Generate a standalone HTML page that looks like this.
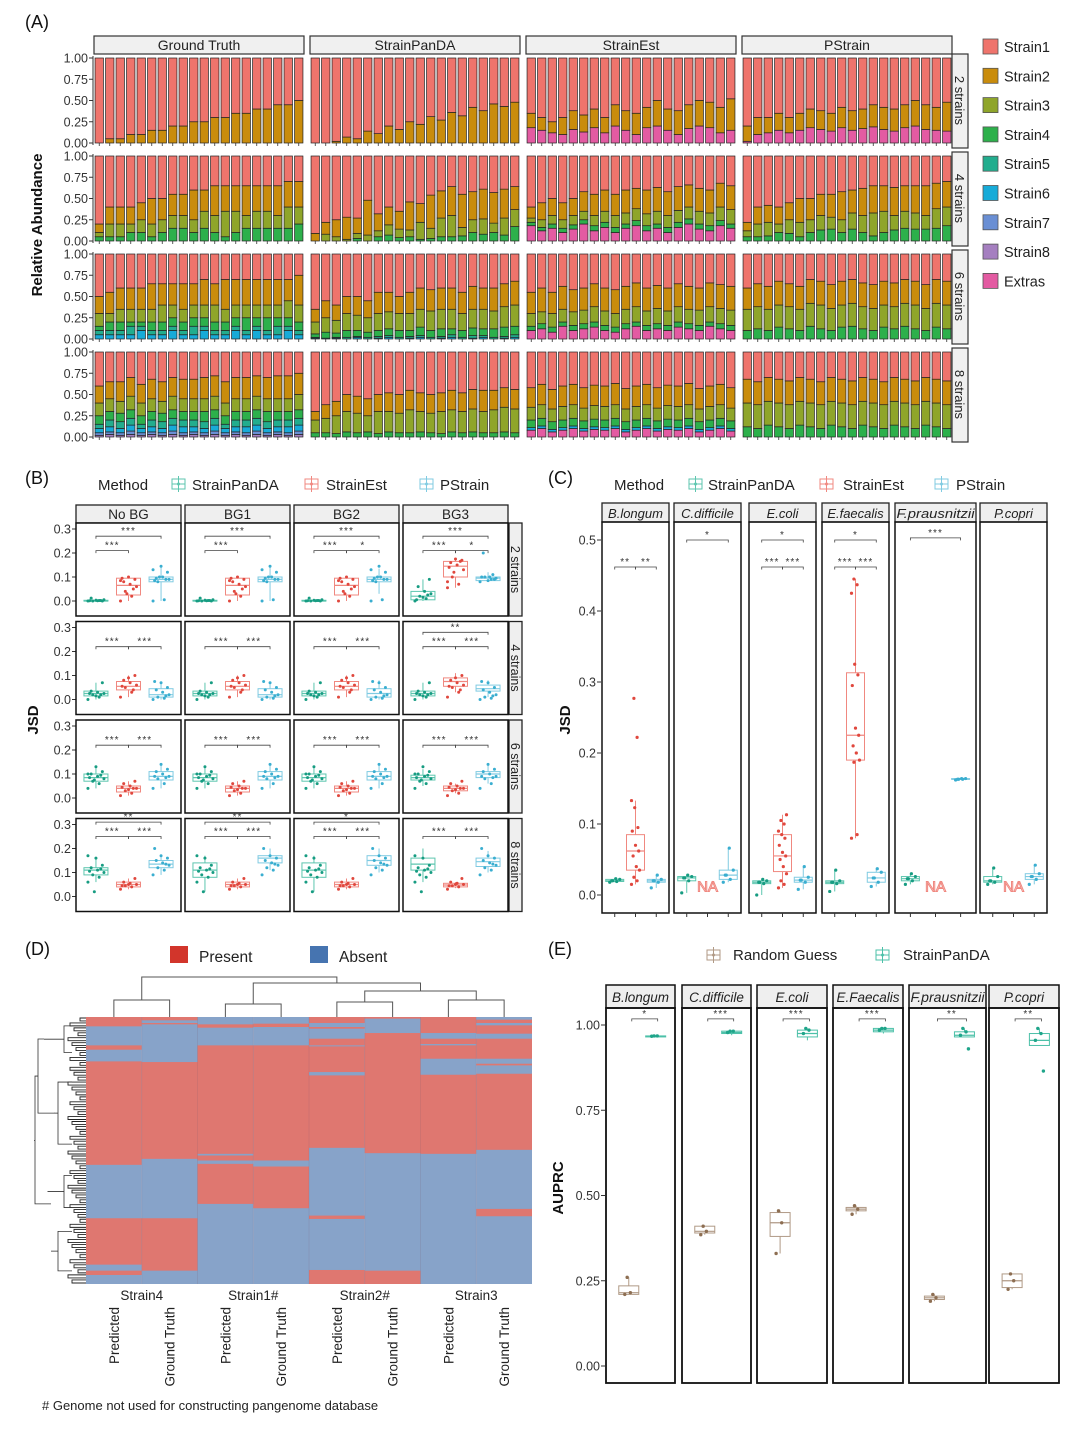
<!DOCTYPE html>
<html><head><meta charset="utf-8"><style>
html,body{margin:0;padding:0;background:#fff}
svg{display:block;font-family:"Liberation Sans",Arial,sans-serif}
</style></head><body>
<svg id="fig" width="1080" height="1429" viewBox="0 0 1080 1429" xmlns="http://www.w3.org/2000/svg"></svg>
<script>
// ================= DATA =================
const A_methods=['Ground Truth','StrainPanDA','StrainEst','PStrain'];
const A_rowLabels=['2 strains','4 strains','6 strains','8 strains'];
const A_yTicks=['0.00','0.25','0.50','0.75','1.00'];
const A_r1_gt=[['Strain2',[0,.05,.05,.1,.1,.15,.15,.2,.2,.25,.25,.3,.3,.35,.35,.4,.4,.45,.45,.5]]];
const A_r1_pd=[['Strain2',[0,0,.02,.07,.05,.14,.11,.2,.16,.25,.22,.31,.27,.36,.32,.42,.38,.46,.43,.48]]];
const A_r1_se=[['Extras',[.18,.15,.12,.1,.16,.13,.18,.12,.2,.15,.1,.18,.2,.15,.1,.17,.2,.18,.12,.15]],['Strain2',[.35,.3,.25,.3,.38,.33,.4,.3,.45,.38,.35,.42,.5,.4,.38,.45,.5,.48,.42,.52]]];
const A_r1_ps=[['Extras',[.02,.1,.12,.15,.12,.15,.18,.16,.14,.18,.15,.17,.19,.16,.14,.18,.2,.16,.15,.14]],['Strain2',[.2,.3,.3,.35,.3,.35,.4,.38,.35,.42,.38,.4,.45,.42,.4,.45,.5,.45,.42,.48]]];
const A_r2_gt=[['Strain4',[.05,.05,.05,.1,.1,.05,.1,.15,.15,.1,.15,.1,.05,.1,.15,.15,.15,.15,.15,.2]],['Strain3',[.1,.2,.2,.2,.25,.2,.25,.3,.3,.25,.35,.3,.35,.35,.3,.35,.35,.3,.4,.4]],['Strain2',[.2,.4,.4,.4,.45,.5,.5,.55,.55,.6,.6,.65,.65,.65,.65,.65,.65,.65,.7,.7]]];
const A_r2_pd=[['Strain4',[0,0,0,0,.03,0,.05,.07,.04,.05,.02,.03,.05,.05,.06,.1,.08,.1,.07,.17]],['Strain3',[0,.08,.05,.02,.09,.07,.12,.19,.14,.13,.22,.15,.27,.3,.16,.25,.26,.21,.27,.37]],['Strain2',[.09,.22,.25,.28,.27,.48,.32,.4,.35,.46,.44,.54,.59,.64,.55,.58,.61,.57,.61,.64]]];
const A_r2_se=[['Extras',[.18,.12,.15,.1,.14,.2,.12,.16,.1,.15,.18,.12,.15,.1,.16,.2,.14,.12,.18,.15]],['Strain4',[.22,.16,.2,.15,.19,.25,.18,.22,.16,.2,.24,.18,.2,.16,.22,.26,.2,.18,.24,.2]],['Strain3',[.27,.25,.3,.25,.3,.35,.3,.35,.3,.33,.38,.32,.35,.3,.36,.4,.35,.33,.4,.37]],['Strain2',[.4,.45,.5,.45,.5,.58,.55,.6,.55,.6,.62,.6,.63,.58,.64,.66,.62,.6,.68,.65]]];
const A_r2_ps=[['Strain4',[.05,.05,.06,.1,.09,.05,.1,.13,.14,.1,.14,.1,.06,.1,.13,.15,.14,.14,.15,.18]],['Strain3',[.12,.2,.22,.2,.25,.22,.25,.3,.28,.25,.33,.3,.33,.35,.3,.35,.33,.3,.38,.4]],['Strain2',[.22,.4,.42,.4,.45,.5,.5,.55,.55,.58,.6,.62,.65,.65,.63,.65,.65,.65,.68,.7]]];
const A_r3_gt=[['Strain6',[.05,.05,.05,.05,.1,.05,.05,.1,.05,.05,.1,.05,.05,.1,.05,.1,.05,.05,.1,.05]],['Strain5',[.1,.1,.1,.15,.15,.1,.1,.15,.1,.15,.15,.1,.1,.15,.1,.15,.1,.15,.15,.1]],['Strain4',[.15,.2,.2,.2,.2,.2,.2,.25,.2,.25,.25,.2,.2,.25,.25,.25,.25,.25,.25,.2]],['Strain3',[.3,.3,.35,.35,.35,.35,.4,.4,.35,.4,.4,.4,.35,.4,.4,.4,.4,.4,.45,.4]],['Strain2',[.5,.55,.6,.6,.6,.65,.65,.65,.65,.65,.7,.65,.7,.7,.7,.7,.7,.7,.7,.75]]];
const A_r3_pd=[['Strain6',[.01,0,.01,0,.02,0,.01,.02,0,.01,.02,0,.01,.02,0,.01,.02,0,.01,.02]],['Strain5',[.02,.01,.02,.02,.03,.02,.03,.04,.02,.03,.04,.02,.03,.05,.02,.04,.04,.02,.03,.05]],['Strain4',[.06,.08,.07,.1,.1,.08,.1,.12,.1,.1,.14,.1,.12,.12,.1,.13,.12,.12,.14,.15]],['Strain3',[.2,.25,.22,.3,.28,.25,.3,.32,.3,.3,.35,.33,.35,.35,.3,.35,.35,.33,.38,.4]],['Strain2',[.35,.45,.4,.5,.5,.45,.55,.55,.5,.55,.6,.58,.6,.6,.55,.62,.6,.6,.65,.68]]];
const A_r3_se=[['Extras',[.1,.12,.08,.15,.1,.12,.14,.1,.08,.12,.15,.1,.12,.1,.14,.12,.1,.15,.12,.1]],['Strain4',[.15,.18,.14,.2,.16,.18,.2,.16,.14,.18,.2,.16,.18,.16,.2,.18,.16,.2,.18,.16]],['Strain3',[.3,.32,.3,.35,.32,.34,.38,.33,.3,.35,.38,.33,.36,.33,.38,.35,.34,.38,.36,.34]],['Strain2',[.55,.6,.55,.62,.58,.6,.65,.6,.58,.62,.66,.6,.63,.6,.65,.62,.6,.66,.64,.62]]];
const A_r3_ps=[['Strain4',[.1,.12,.1,.14,.12,.1,.15,.12,.1,.14,.15,.12,.1,.14,.12,.15,.12,.1,.14,.12]],['Strain3',[.35,.38,.35,.4,.38,.35,.42,.4,.36,.4,.42,.38,.36,.4,.38,.42,.4,.36,.42,.4]],['Strain2',[.6,.65,.62,.68,.65,.62,.7,.68,.64,.68,.7,.66,.64,.68,.66,.7,.68,.64,.7,.68]]];
const A_r4_gt=[['Strain8',[.02,.03,.02,.03,.02,.03,.02,.03,.02,.03,.02,.03,.02,.03,.02,.03,.02,.03,.02,.03]],['Strain7',[.05,.06,.05,.07,.05,.06,.05,.07,.05,.06,.05,.07,.05,.06,.05,.07,.05,.06,.05,.07]],['Strain6',[.1,.12,.1,.14,.1,.12,.1,.14,.12,.12,.1,.14,.1,.12,.12,.14,.1,.12,.12,.14]],['Strain5',[.15,.2,.18,.22,.15,.2,.18,.22,.2,.2,.18,.22,.15,.2,.2,.22,.18,.2,.2,.22]],['Strain4',[.25,.3,.28,.32,.25,.3,.28,.32,.3,.3,.3,.32,.25,.3,.3,.32,.3,.3,.3,.32]],['Strain3',[.4,.45,.42,.48,.4,.45,.42,.48,.45,.45,.45,.48,.4,.45,.45,.48,.45,.45,.45,.5]],['Strain2',[.6,.65,.65,.7,.62,.68,.65,.7,.68,.68,.7,.72,.65,.7,.7,.72,.7,.72,.72,.75]]];
const A_r4_pd=[['Strain4',[.05,.05,.04,.06,.05,.06,.04,.06,.05,.05,.06,.05,.04,.06,.05,.06,.05,.05,.06,.05]],['Strain3',[.2,.22,.25,.3,.28,.25,.3,.3,.28,.32,.3,.28,.3,.32,.3,.33,.3,.32,.35,.33]],['Strain2',[.3,.38,.42,.5,.48,.45,.5,.52,.5,.55,.52,.5,.52,.55,.52,.56,.55,.55,.58,.56]]];
const A_r4_se=[['Extras',[.08,.1,.06,.08,.1,.07,.09,.08,.1,.06,.08,.1,.07,.09,.08,.1,.06,.08,.1,.07]],['Strain6',[.11,.13,.09,.11,.13,.1,.12,.11,.13,.09,.11,.13,.1,.12,.11,.13,.09,.11,.13,.1]],['Strain4',[.2,.22,.18,.2,.22,.19,.21,.2,.22,.18,.2,.22,.19,.21,.2,.22,.18,.2,.22,.19]],['Strain3',[.35,.38,.33,.36,.38,.34,.37,.36,.38,.33,.36,.38,.34,.37,.36,.38,.33,.36,.38,.34]],['Strain2',[.58,.62,.56,.6,.62,.58,.61,.6,.63,.57,.6,.62,.58,.61,.6,.63,.57,.6,.62,.58]]];
const A_r4_ps=[['Strain4',[.12,.1,.14,.12,.1,.14,.12,.1,.14,.12,.1,.14,.12,.1,.14,.12,.1,.14,.12,.1]],['Strain3',[.4,.38,.42,.4,.38,.42,.4,.38,.42,.4,.38,.42,.4,.38,.42,.4,.38,.42,.4,.38]],['Strain2',[.68,.65,.7,.68,.66,.7,.68,.65,.7,.68,.66,.7,.68,.65,.7,.68,.66,.7,.68,.66]]];
const A_grid=[[A_r1_gt,A_r1_pd,A_r1_se,A_r1_ps],[A_r2_gt,A_r2_pd,A_r2_se,A_r2_ps],[A_r3_gt,A_r3_pd,A_r3_se,A_r3_ps],[A_r4_gt,A_r4_pd,A_r4_se,A_r4_ps]];
const A_legend=['Strain1','Strain2','Strain3','Strain4','Strain5','Strain6','Strain7','Strain8','Extras'];

const B_cols=['No BG','BG1','BG2','BG3'];
const B_rows=['2 strains','4 strains','6 strains','8 strains'];
const B_yTicks=[0,0.1,0.2,0.3];
const B_row1=[[[0,0,.003,0,.01],[.025,.065,.095,0,.1],[.08,.09,.1,0,.145]],[[0,0,.003,0,.01],[.025,.065,.095,0,.1],[.08,.09,.1,0,.145]],[[0,0,.003,0,.008],[.025,.065,.095,0,.1],[.08,.09,.1,.03,.135]],[[.005,.02,.04,0,.09],[.1,.145,.165,.055,.175],[.085,.095,.1,.08,.12]]];
const B_row2=[[[.015,.025,.035,0,.07],[.04,.055,.075,.01,.1],[.01,.02,.045,0,.075]],[[.015,.025,.035,0,.07],[.04,.055,.075,.01,.1],[.01,.02,.045,0,.075]],[[.015,.025,.035,0,.07],[.04,.055,.075,.01,.1],[.01,.025,.045,0,.08]],[[.015,.025,.035,0,.07],[.055,.075,.09,.03,.11],[.035,.045,.06,.01,.08]]];
const B_row3=[[[.07,.085,.1,.04,.13],[.025,.04,.05,.01,.07],[.075,.09,.11,.04,.14]],[[.07,.085,.1,.04,.13],[.025,.04,.05,.01,.07],[.075,.09,.11,.04,.14]],[[.07,.085,.1,.04,.13],[.025,.04,.05,.01,.07],[.075,.09,.11,.04,.14]],[[.075,.085,.095,.05,.12],[.03,.04,.05,.02,.06],[.085,.1,.11,.06,.14]]];
const B_row4=[[[.09,.11,.12,.06,.16],[.04,.05,.06,.03,.075],[.12,.135,.15,.09,.17]],[[.08,.11,.14,.02,.17],[.04,.05,.06,.03,.075],[.14,.16,.17,.11,.2]],[[.08,.11,.14,.02,.17],[.04,.05,.06,.03,.075],[.13,.15,.17,.1,.2]],[[.11,.135,.16,.06,.2],[.04,.048,.055,.035,.06],[.125,.145,.16,.1,.19]]];
const B_stats=[B_row1,B_row2,B_row3,B_row4];
const B_pts_r1=[[0,.002,0,.005,.001,.012,0,.003,.001,.002],[.0,.02,.04,.06,.07,.08,.09,.1,.095,.05,.03,.085],[0,.005,.08,.09,.1,.095,.12,.145,.085,.09,.1,.13]];
const B_pts_r1b=[[0,.01,.02,.03,.04,.06,.09,.015,.005,.025],[.055,.07,.1,.13,.15,.16,.17,.175,.14,.165,.12,.08],[.08,.09,.1,.095,.1,.2,.09,.085,.1,.11]];
const B_pts_r2=[[0,.01,.02,.025,.03,.035,.07,.015,.025,.02],[.01,.03,.05,.06,.07,.08,.1,.09,.055,.04],[0,.005,.01,.02,.03,.04,.05,.07,.075,.015]];
const B_pts_r3=[[.04,.06,.07,.08,.09,.1,.11,.13,.085,.095,.075,.1],[.01,.02,.03,.04,.05,.06,.07,.035,.045,.04],[.04,.06,.08,.09,.1,.11,.12,.14,.09,.085]];
const B_pts_r4=[[.06,.08,.09,.1,.11,.12,.13,.16,.105,.115,.02,.17],[.03,.04,.045,.05,.055,.06,.075,.05,.045],[.09,.11,.12,.13,.14,.15,.16,.17,.2,.135]];
const B_sig=[
 [[[1,3,.27,'***'],[1,2,.21,'***']],[[1,3,.27,'***'],[1,2,.21,'***']],[[1,3,.27,'***'],[1,2,.21,'***'],[2,3,.21,'*']],[[1,3,.27,'***'],[1,2,.21,'***'],[2,3,.21,'*']]],
 [[[1,2,.22,'***'],[2,3,.22,'***']],[[1,2,.22,'***'],[2,3,.22,'***']],[[1,2,.22,'***'],[2,3,.22,'***']],[[1,3,.28,'**'],[1,2,.22,'***'],[2,3,.22,'***']]],
 [[[1,2,.22,'***'],[2,3,.22,'***']],[[1,2,.22,'***'],[2,3,.22,'***']],[[1,2,.22,'***'],[2,3,.22,'***']],[[1,2,.22,'***'],[2,3,.22,'***']]],
 [[[1,3,.31,'**'],[1,2,.25,'***'],[2,3,.25,'***']],[[1,3,.31,'**'],[1,2,.25,'***'],[2,3,.25,'***']],[[1,3,.31,'*'],[1,2,.25,'***'],[2,3,.25,'***']],[[1,2,.25,'***'],[2,3,.25,'***']]]];

const C_species=['B.longum','C.difficile','E.coli','E.faecalis','F.prausnitzii','P.copri'];
const C_yTicks=[0,0.1,0.2,0.3,0.4,0.5];
const C_panda=[[.019,.02,.022,.018,.023],[.02,.024,.026,.003,.028],[.016,.018,.02,0,.022],[.016,.018,.02,.005,.035],[.02,.023,.026,.015,.03],[.018,.02,.026,.015,.038]];
const C_est=[[.035,.062,.085,.015,.133],null,[.033,.055,.085,.01,.113],[.19,.225,.313,.08,.445],null,null];
const C_pstrain=[[.018,.02,.022,.01,.028],[.022,.028,.035,.018,.066],[.018,.021,.025,.008,.04],[.018,.024,.032,.012,.037],[.163,.163,.164,.162,.164],[.022,.026,.03,.015,.042]];
const C_estPts=[[.015,.02,.025,.035,.04,.055,.062,.07,.09,.095,.123,.133,.222,.277],[],[.01,.015,.02,.03,.04,.05,.055,.06,.07,.08,.085,.09,.1,.105,.113],[.08,.085,.187,.19,.2,.21,.225,.235,.295,.31,.325,.425,.437,.445],[],[]];
const C_sig=[[[1,2,.462,'**'],[2,3,.462,'**']],[[1,3,.5,'*']],[[1,3,.5,'*'],[1,2,.462,'***'],[2,3,.462,'***']],[[1,3,.5,'*'],[1,2,.462,'***'],[2,3,.462,'***']],[[1,3,.503,'***']],[]];

const D_groups=['Strain4','Strain1#','Strain2#','Strain3'];
const D_colLabels=['Predicted','Ground Truth','Predicted','Ground Truth','Predicted','Ground Truth','Predicted','Ground Truth'];
const D_present=[
 [[0,28],[85,98],[133,443],[603,742],[760,773]],
 [[0,10],[18,22],[135,425],[603,760]],
 [[22,32],[85,410],[415,430],[440,560]],
 [[20,30],[85,430],[448,573]],
 [[0,18],[30,35],[65,85],[88,165],[175,392],[595,605],[758,800]],
 [[0,5],[48,408],[760,800]],
 [[0,48],[65,81],[85,125],[173,410]],
 [[8,18],[25,50],[65,125],[140,145],[170,398],[575,597]]];
const D_geneCount=800;

const E_species=['B.longum','C.difficile','E.coli','E.Faecalis','F.prausnitzii','P.copri'];
const E_yTicks=['0.00','0.25','0.50','0.75','1.00'];
const E_random=[[.21,.215,.235,.21,.26],[.39,.395,.41,.385,.41],[.38,.42,.45,.33,.455],[.455,.46,.465,.445,.47],[.195,.2,.205,.19,.21],[.23,.25,.27,.225,.27]];
const E_panda=[[.965,.967,.968,.965,.968],[.975,.978,.982,.97,.982],[.965,.975,.985,.955,.99],[.98,.985,.99,.975,.99],[.965,.97,.98,.965,.99],[.94,.955,.975,.94,.99]];
const E_pandaOut=[[],[],[],[],[.93],[.865]];
const E_sig=['*','***','***','***','**','**'];

// ================= DRAWING =================
const NS='http://www.w3.org/2000/svg';
const svg=document.getElementById('fig');
function mk(tag,a,p){const e=document.createElementNS(NS,tag);for(const k in a)e.setAttribute(k,a[k]);(p||svg).appendChild(e);return e;}
function tx(x,y,s,a,p){const e=mk('text',Object.assign({x:x,y:y},a||{}),p);e.textContent=s;return e;}
function grp(name,p){const g=mk('g',{},p);return g;}
const COL={Strain1:'#EF746C',Strain2:'#C98C0C',Strain3:'#8FA52A',Strain4:'#2DB04B',Strain5:'#22AD8E',Strain6:'#17ABD8',Strain7:'#6A8FD4',Strain8:'#A57FC0',Extras:'#E35BA2'};
const M_PT=['#179C82','#E0473D','#3AAED0'], M_BX=['#5DC6AF','#F08880','#80CBE2'];
const AX='#333';

[['(A)',25,28],['(B)',25,484],['(C)',548,484],['(D)',25,955],['(E)',548,955]].forEach(function(l){const t=tx(l[1],l[2],l[0],{'font-size':18,fill:'#111'});});

(function(){
 const gA=grp('panel-a-stacked-bars');
 const fx0=94,fw=210,fstep=216,rTop0=58,rstep=98,rh=85;
 function yA(v,r){return rTop0+r*rstep+rh*(1-v);}
 A_methods.forEach(function(m,c){
  const s=mk('rect',{x:fx0+c*fstep,y:36,width:fw,height:18,fill:'#F0F0F0',stroke:'#333','stroke-width':1.2},gA);
  
  tx(fx0+c*fstep+fw/2,50,m,{'font-size':14,'text-anchor':'middle',fill:'#222'},gA);
 });
 for(let r=0;r<4;r++){
  const st=mk('rect',{x:952,y:rTop0+r*rstep-4,width:16,height:rh+9,fill:'#F0F0F0',stroke:'#333','stroke-width':1.2},gA);
  
  const cy=rTop0+r*rstep+rh/2;
  tx(955,cy,A_rowLabels[r],{'font-size':13,'text-anchor':'middle',transform:'rotate(90 955 '+cy+')',fill:'#222'},gA);
  A_yTicks.forEach(function(t){const v=parseFloat(t),y=yA(v,r);
   tx(88,y+4.5,t,{'font-size':12.5,'text-anchor':'end',fill:AX},gA);
   mk('line',{x1:89,x2:93,y1:y,y2:y,stroke:AX},gA);});
  mk('line',{x1:93,x2:93,y1:yA(1,r)-2,y2:yA(0,r)+2,stroke:AX},gA);
  for(let c=0;c<4;c++){
   const layers=A_grid[r][c],n=layers[0][1].length,step=fw/n,bw=step*0.8;
   for(let i=0;i<n;i++){
    let prev=0;const x=fx0+c*fstep+(i+0.5)*step-bw/2;
    const segs=layers.map(function(L){return [L[0],L[1][i]];}).concat([['Strain1',1]]);
    segs.forEach(function(sg){const top=Math.max(prev,sg[1]);
     if(top>prev){const rc=mk('rect',{x:x,y:yA(top,r),width:bw,height:yA(prev,r)-yA(top,r),fill:COL[sg[0]],stroke:'#222','stroke-width':0.7},gA);
      }
     prev=top;});
    mk('line',{x1:x+bw/2,x2:x+bw/2,y1:yA(0,r),y2:yA(0,r)+3,stroke:AX,'stroke-width':0.8},gA);
   }
  }
 }
 const yl=tx(42,225,'Relative Abundance',{'font-size':15,'font-weight':'bold','text-anchor':'middle',transform:'rotate(-90 42 225)',fill:'#111'},gA);
 
 A_legend.forEach(function(s,i){const y=39+i*29.3;
  const r=mk('rect',{x:983,y:y,width:15,height:15,fill:COL[s],stroke:'#555','stroke-width':0.8},gA);
  
  const t=tx(1004,y+13,s,{'font-size':14.5,fill:'#222'},gA);
  });
})();

function boxPlot(g,cx,hw,st,yf,col){
 const b=mk('rect',{x:cx-hw,y:yf(st[2]),width:2*hw,height:Math.max(0.8,yf(st[0])-yf(st[2])),fill:'none',stroke:col,'stroke-width':1},g);
 
 mk('line',{x1:cx-hw,x2:cx+hw,y1:yf(st[1]),y2:yf(st[1]),stroke:col,'stroke-width':1.2},g);
 mk('line',{x1:cx,x2:cx,y1:yf(st[2]),y2:yf(st[4]),stroke:col,'stroke-width':1},g);
 mk('line',{x1:cx,x2:cx,y1:yf(st[0]),y2:yf(st[3]),stroke:col,'stroke-width':1},g);
}
function pts(g,cx,vals,yf,col,spread,r){
 vals.forEach(function(v,i){const dx=(((i*7)%11)-5)/5*spread;
  const c=mk('circle',{cx:cx+dx,cy:yf(v),r:r||1.6,fill:col},g);
  });
}
function sig(g,x1,x2,y,lab,fs){
 mk('path',{d:'M'+x1+' '+(y+2.5)+'V'+y+'H'+x2+'V'+(y+2.5),fill:'none',stroke:'#444','stroke-width':0.8},g);
 tx((x1+x2)/2,y-2,lab,{'font-size':fs||10,'text-anchor':'middle',fill:'#333','letter-spacing':1},g);
}
function boxIcon(g,x,y,col){
 mk('rect',{x:x,y:y-5,width:13,height:10,fill:'#fff',stroke:col,'stroke-width':1},g);
 mk('line',{x1:x+6.5,x2:x+6.5,y1:y-8,y2:y+8,stroke:col},g);
 mk('line',{x1:x,x2:x+13,y1:y,y2:y,stroke:col},g);
 mk('circle',{cx:x+6.5,cy:y,r:1.5,fill:col},g);
}
function stripText(g,x,y,w,sp,fs){
 const a={'font-size':fs,'font-style':'italic','text-anchor':'middle',fill:'#222'};
 if(sp.length>11){a.textLength=w-3;a.lengthAdjust='spacingAndGlyphs';}
 return tx(x,y,sp,a,g);
}

(function(){
 const g=grp('panel-b-jsd-boxplots');
 tx(98,490,'Method',{'font-size':15,fill:'#222'},g);
 [['StrainPanDA',172,192],['StrainEst',305,326],['PStrain',420,440]].forEach(function(l,i){
  boxIcon(g,l[1],484,M_BX[i]);const t=tx(l[2],490,l[0],{'font-size':15,fill:'#222'},g);
  });
 const fx=[76,185,294,403],fw=105,rt0=523,rs=98.5,ph=93;
 B_cols.forEach(function(c,i){
  const s=mk('rect',{x:fx[i],y:505,width:fw,height:18,fill:'#EFEFEF',stroke:'#222','stroke-width':1.3},g);
  
  tx(fx[i]+fw/2,519,c,{'font-size':13.5,'text-anchor':'middle',fill:'#222'},g);});
 const ptsRows=[B_pts_r1,B_pts_r2,B_pts_r3,B_pts_r4];
 for(let r=0;r<4;r++){
  const top=rt0+r*rs;const yf=function(v){return top+78-v*240;};
  const st=mk('rect',{x:509,y:top,width:13,height:ph,fill:'#EFEFEF',stroke:'#222','stroke-width':1.3},g);
  
  tx(511,top+ph/2,B_rows[r],{'font-size':12.5,'text-anchor':'middle',transform:'rotate(90 511 '+(top+ph/2)+')',fill:'#222'},g);
  B_yTicks.forEach(function(t){tx(71,yf(t)+4.5,t.toFixed(1),{'font-size':12.5,'text-anchor':'end',fill:AX},g);
   mk('line',{x1:72,x2:76,y1:yf(t),y2:yf(t),stroke:AX},g);});
  for(let c=0;c<4;c++){
   const pr=mk('rect',{x:fx[c],y:top,width:fw,height:ph,fill:'#fff',stroke:'#111','stroke-width':1.5},g);
   
   const pos=function(k){return fx[c]+fw*[0.19,0.5,0.81][k-1];};
   for(let m=0;m<3;m++){
    const cx=pos(m+1);
    boxPlot(g,cx,12,B_stats[r][c][m],yf,M_BX[m]);
    const P=(r===0&&c===3)?B_pts_r1b[m]:ptsRows[r][m];
    pts(g,cx,P,yf,M_PT[m],8,1.5);
   }
   B_sig[r][c].forEach(function(s){sig(g,pos(s[0]),pos(s[1]),yf(s[2]),s[3]);});
  }
 }
 tx(38,720,'JSD',{'font-size':15,'font-weight':'bold','text-anchor':'middle',transform:'rotate(-90 38 720)',fill:'#111'},g);
})();

(function(){
 const g=grp('panel-c-species-jsd');
 tx(614,490,'Method',{'font-size':15,fill:'#222'},g);
 [['StrainPanDA',689,708],['StrainEst',820,843],['PStrain',935,956]].forEach(function(l,i){
  boxIcon(g,l[1],484,M_BX[i]);const t=tx(l[2],490,l[0],{'font-size':15,fill:'#222'},g);
  });
 const fx=[602,674,749,822,895,980],fw=[67,67,67,67,81,67];
 const yf=function(v){return 895-v*710;};
 C_yTicks.forEach(function(t){tx(596,yf(t)+4.5,t.toFixed(1),{'font-size':12.5,'text-anchor':'end',fill:AX},g);
  mk('line',{x1:597,x2:601,y1:yf(t),y2:yf(t),stroke:AX},g);});
 C_species.forEach(function(sp,i){
  const s=mk('rect',{x:fx[i],y:503,width:fw[i],height:19,fill:'#EFEFEF',stroke:'#222','stroke-width':1.3},g);
  
  stripText(g,fx[i]+fw[i]/2,518,fw[i],sp,13);
  const pr=mk('rect',{x:fx[i],y:522,width:fw[i],height:391,fill:'none',stroke:'#111','stroke-width':1.5},g);
  
  const pos=function(k){return fx[i]+fw[i]*[0.19,0.5,0.81][k-1];};
  [1,2,3].forEach(function(k){mk('line',{x1:pos(k),x2:pos(k),y1:913,y2:917,stroke:AX},g);});
  boxPlot(g,pos(1),9,C_panda[i],yf,M_BX[0]);
  pts(g,pos(1),[C_panda[i][3],C_panda[i][0],C_panda[i][1],C_panda[i][2],C_panda[i][4],C_panda[i][1]],yf,M_PT[0],5,1.6);
  if(C_est[i]){boxPlot(g,pos(2),9,C_est[i],yf,M_BX[1]);pts(g,pos(2),C_estPts[i],yf,M_PT[1],4,1.6);}
  else{const na=tx(pos(2),yf(0.005),'NA',{'font-size':15,'text-anchor':'middle',fill:'#fff',stroke:'#F08880','stroke-width':1},g);
   }
  boxPlot(g,pos(3),9,C_pstrain[i],yf,M_BX[2]);
  pts(g,pos(3),[C_pstrain[i][3],C_pstrain[i][0],C_pstrain[i][1],C_pstrain[i][2],C_pstrain[i][4],C_pstrain[i][1]],yf,M_PT[2],5,1.6);
  C_sig[i].forEach(function(s){sig(g,pos(s[0]),pos(s[1]),yf(s[2]),s[3]);});
 });
 tx(570,720,'JSD',{'font-size':15,'font-weight':'bold','text-anchor':'middle',transform:'rotate(-90 570 720)',fill:'#111'},g);
})();

(function(){
 const g=grp('panel-d-heatmap');
 const lr=mk('rect',{x:170,y:946,width:18,height:17,fill:'#D2352B'},g);
 tx(199,962,'Present',{'font-size':15.5,fill:'#222'},g);
 const lb=mk('rect',{x:310,y:946,width:18,height:17,fill:'#4674B0'},g);
 tx(339,962,'Absent',{'font-size':15.5,fill:'#222'},g);
 const hx=86,hw=446,hy=1017,hh=267,cw=hw/8;
 const gy=function(i){return hy+hh*i/D_geneCount;};
 D_present.forEach(function(runs,c){
  const bg=mk('rect',{x:hx+c*cw,y:hy,width:cw,height:hh,fill:'#87A3C9'},g);
  
  runs.forEach(function(rn){const r=mk('rect',{x:hx+c*cw,y:gy(rn[0]),width:cw,height:gy(rn[1])-gy(rn[0]),fill:'#DF7770'},g);
   });
  if(c>0)mk('line',{x1:hx+c*cw,x2:hx+c*cw,y1:hy,y2:hy+hh,stroke:'rgba(120,90,110,0.2)','stroke-width':0.8},g);
  const cx=hx+(c+0.5)*cw;
  tx(cx+5,1307,D_colLabels[c],{'font-size':13.5,'text-anchor':'end',transform:'rotate(-90 '+(cx+5)+' 1307)',fill:'#222'},g);
 });
 D_groups.forEach(function(s,i){tx(hx+(2*i+1)*cw,1300,s,{'font-size':13.5,'text-anchor':'middle',fill:'#222'},g);});
 const cxs=[0,1,2,3,4,5,6,7].map(function(c){return hx+(c+0.5)*cw;});
 function br(x1,x2,y,yl,yr){mk('path',{d:'M'+x1+' '+yl+'V'+y+'H'+x2+'V'+yr,fill:'none',stroke:'#555','stroke-width':1},g);}
 br(cxs[0],cxs[1],1000,1017,1017);br(cxs[2],cxs[3],1004,1017,1017);br(cxs[4],cxs[5],1002,1017,1017);br(cxs[6],cxs[7],1000,1017,1017);
 const m56=(cxs[4]+cxs[5])/2,m78=(cxs[6]+cxs[7])/2,m34=(cxs[2]+cxs[3])/2,m12=(cxs[0]+cxs[1])/2;
 br(m56,m78,991,1002,1000);br(m34,(m56+m78)/2,983,1004,991);br(m12,(m34+(m56+m78)/2)/2,977,1000,983);
 // left dendrogram (simplified): dense short brackets near the heatmap
 const L=[[0,133,60],[133,443,45],[443,603,55],[603,800,50]];
 L.forEach(function(s,j){const y1=gy(s[0]),y2=gy(s[1]);const n=Math.round((y2-y1)/5);
  for(let k=0;k<n;k++){const ya=y1+(y2-y1)*(k/n),yb=y1+(y2-y1)*((k+1)/n);const xx=hx-6-((k*5)%7)*2;
   mk('path',{d:'M'+hx+' '+(ya+1)+'H'+xx+'V'+(yb-1)+'H'+hx,fill:'none',stroke:'#222','stroke-width':0.9},g);}
  const xm=hx-22-(j%2)*6;
  mk('path',{d:'M'+(hx-14)+' '+(y1+(y2-y1)*0.2)+'H'+xm+'V'+(y1+(y2-y1)*0.8)+'H'+(hx-14),fill:'none',stroke:'#333','stroke-width':0.8},g);
  mk('path',{d:'M'+xm+' '+(y1+(y2-y1)*0.5)+'H'+(hx-s[2]*0.7),fill:'none',stroke:'#333','stroke-width':0.8},g);});
 mk('path',{d:'M'+(hx-42)+' '+gy(66)+'H'+(hx-48)+'V'+gy(288)+'H'+(hx-31)+'M'+(hx-48)+' '+gy(177)+'H'+(hx-51)+'V'+gy(560)+'H'+(hx-35)+'M'+(hx-51)+' '+gy(370)+'H'+(hx-52),fill:'none',stroke:'#333','stroke-width':0.8},g);
 const fn=tx(42,1410,'# Genome not used for constructing pangenome database',{'font-size':13,fill:'#222'},g);
 
})();

(function(){
 const g=grp('panel-e-auprc');
 const RG='#8D6E52',PD='#1FA58A',RGb='#B09A86',PDb='#4CC0A8';
 boxIcon(g,707,955,RGb);tx(733,960,'Random Guess',{'font-size':15,fill:'#222'},g);
 boxIcon(g,876,955,PDb);tx(903,960,'StrainPanDA',{'font-size':15,fill:'#222'},g);
 const fx=[606,682,757,833,909,989],fw=[69,69,70,70,77,70];
 const yf=function(v){return 1366-v*341;};
 E_yTicks.forEach(function(t){const v=parseFloat(t);tx(600,yf(v)+4.5,t,{'font-size':12.5,'text-anchor':'end',fill:AX},g);
  mk('line',{x1:601,x2:605,y1:yf(v),y2:yf(v),stroke:AX},g);});
 E_species.forEach(function(sp,i){
  const s=mk('rect',{x:fx[i],y:985,width:fw[i],height:23,fill:'#EFEFEF',stroke:'#111','stroke-width':1.5},g);
  
  stripText(g,fx[i]+fw[i]/2,1002,fw[i],sp,13.5);
  const pr=mk('rect',{x:fx[i],y:1008,width:fw[i],height:375,fill:'none',stroke:'#111','stroke-width':1.8},g);
  
  const p1=fx[i]+fw[i]*0.33,p2=fx[i]+fw[i]*0.72;
  boxPlot(g,p1,10,E_random[i],yf,RGb);
  pts(g,p1,[E_random[i][3],E_random[i][1],E_random[i][4]],yf,RG,4,1.7);
  boxPlot(g,p2,10,E_panda[i],yf,PDb);
  pts(g,p2,[E_panda[i][1],E_panda[i][2],E_panda[i][4]].concat(E_pandaOut[i]),yf,PD,4,1.7);
  sig(g,p1+3,p2+2,yf(1.018),E_sig[i]);
 });
 tx(563,1188,'AUPRC',{'font-size':15,'font-weight':'bold','text-anchor':'middle',transform:'rotate(-90 563 1188)',fill:'#111'},g);
})();
</script>
</body></html>
